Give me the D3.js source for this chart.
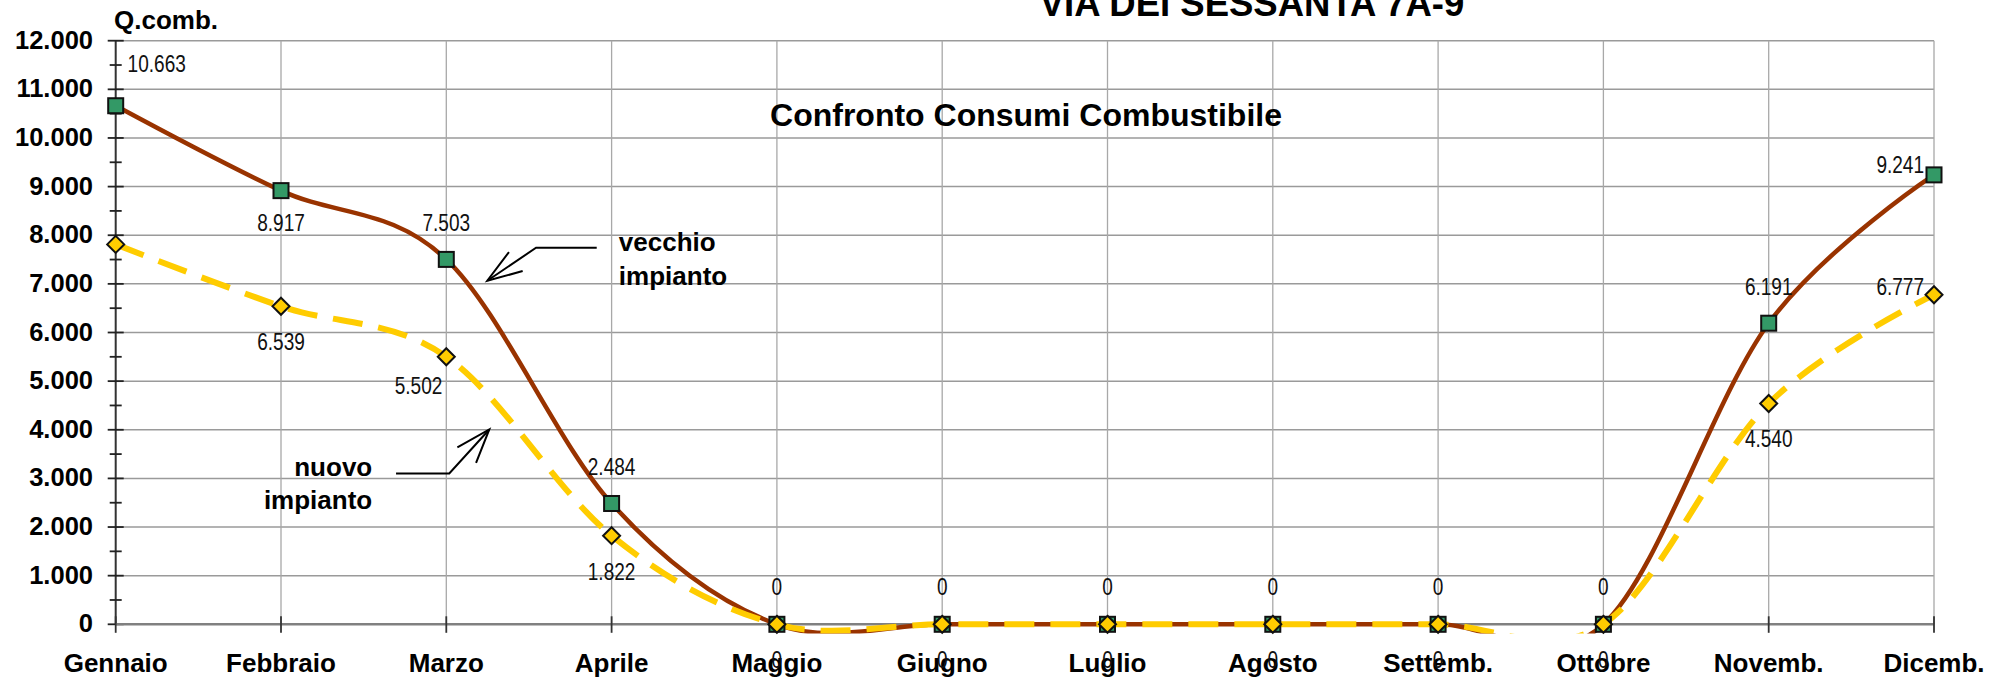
<!DOCTYPE html>
<html>
<head>
<meta charset="utf-8">
<script src="https://cdn.jsdelivr.net/npm/d3@7/dist/d3.min.js"></script>
<style>
  body { margin: 0; background: #fff; overflow: hidden; }
  svg { display: block; font-family: Arial, "Liberation Sans", sans-serif; }
</style>
</head>
<body>
<div id="container"></div>
<script>
// Months on the x axis
let months = ["Gennaio", "Febbraio", "Marzo", "Aprile", "Maggio", "Giugno",
              "Luglio", "Agosto", "Settemb.", "Ottobre", "Novemb.", "Dicemb."];

// Fuel consumption (Q.comb.) per month
let vecchio = [10663, 8917, 7503, 2484, 0, 0, 0, 0, 0, 0, 6191, 9241];
let nuovo   = [7812, 6539, 5502, 1822, 0, 0, 0, 0, 0, 0, 4540, 6777];

// y axis ticks
let yTicks = [0, 1000, 2000, 3000, 4000, 5000, 6000, 7000, 8000, 9000, 10000, 11000, 12000];

// where each data label sits, relative to its marker: [dx, dy, anchor] (null = no label)
let vecchioLabelPos = [[41, -34, "middle"], [0, 40, "middle"], [0, -28, "middle"], [0, -28, "middle"],
                       [0, -29, "middle"], [0, -29, "middle"], [0, -29, "middle"], [0, -29, "middle"],
                       [0, -29, "middle"], [0, -29, "middle"], [0, -28, "middle"], [-10, -2, "end"]];
let nuovoLabelPos = [null, [0, 44, "middle"], [-4, 37, "end"], [0, 44, "middle"],
                     [0, 44, "middle"], [0, 44, "middle"], [0, 44, "middle"], [0, 44, "middle"],
                     [0, 44, "middle"], [0, 44, "middle"], [0, 43, "middle"], [-10, 0, "end"]];

//Width and height
let w = 2007;
let h = 677;

let plotLeft = 115.7, plotRight = 1934, plotTop = 40.7, plotBottom = 624.3;

let x = d3.scalePoint().domain(months).range([plotLeft, plotRight]);
// month index scale, used for the annotation arrows
let xi = d3.scaleLinear().domain([0, 11]).range([plotLeft, plotRight]);
let y = d3.scaleLinear().domain([0, 12000]).range([plotBottom, plotTop]);

let fmt = d3.formatLocale({ decimal: ",", thousands: ".", grouping: [3], currency: ["", ""] }).format(",d");

let svg = d3.select("#container")
  .append("svg")
  .attr("width", w)
  .attr("height", h);

// clip for the smoothed lines (they overshoot below zero)
svg.append("clipPath").attr("id", "plotClip")
  .append("rect")
  .attr("x", plotLeft - 20).attr("y", 0)
  .attr("width", plotRight - plotLeft + 40).attr("height", 633.5);

// Horizontal gridlines
svg.append("g")
  .selectAll("line")
  .data(yTicks.filter(d => d > 0))
  .enter()
  .append("line")
    .attr("x1", plotLeft).attr("x2", plotRight)
    .attr("y1", d => y(d)).attr("y2", d => y(d))
    .style("stroke", "#9a9a9a")
    .style("stroke-width", 1.5);

// Vertical gridlines
svg.append("g")
  .selectAll("line")
  .data(months.slice(1))
  .enter()
  .append("line")
    .attr("x1", d => x(d)).attr("x2", d => x(d))
    .attr("y1", plotTop).attr("y2", plotBottom)
    .style("stroke", "#a8a8a8")
    .style("stroke-width", 1.3);

// y axis: major ticks each 1000, minor at 500
let yAxis = svg.append("g");
yAxis.append("line")
  .attr("x1", plotLeft).attr("x2", plotLeft)
  .attr("y1", plotTop).attr("y2", plotBottom)
  .style("stroke", "#333").style("stroke-width", 2);
yAxis.selectAll(".major")
  .data(yTicks)
  .enter()
  .append("line")
    .attr("x1", plotLeft - 8).attr("x2", plotLeft + 8)
    .attr("y1", d => y(d)).attr("y2", d => y(d))
    .style("stroke", "#222").style("stroke-width", 1.8);
yAxis.selectAll(".minor")
  .data(yTicks.slice(1).map(d => d - 500))
  .enter()
  .append("line")
    .attr("x1", plotLeft - 6).attr("x2", plotLeft + 6)
    .attr("y1", d => y(d)).attr("y2", d => y(d))
    .style("stroke", "#222").style("stroke-width", 1.8);
yAxis.selectAll("text")
  .data(yTicks)
  .enter()
  .append("text")
    .attr("x", 93)
    .attr("y", d => y(d) + 8)
    .attr("text-anchor", "end")
    .style("font-size", "25.5px")
    .style("font-weight", "bold")
    .text(d => fmt(d));

// x axis
let xAxis = svg.append("g");
xAxis.append("line")
  .attr("x1", plotLeft).attr("x2", plotRight)
  .attr("y1", plotBottom).attr("y2", plotBottom)
  .style("stroke", "#808080").style("stroke-width", 2.5);
xAxis.selectAll(".tick")
  .data(months)
  .enter()
  .append("line")
    .attr("x1", d => x(d)).attr("x2", d => x(d))
    .attr("y1", plotBottom - 8).attr("y2", plotBottom + 8.5)
    .style("stroke", "#333").style("stroke-width", 1.8);
xAxis.selectAll("text")
  .data(months)
  .enter()
  .append("text")
    .attr("x", d => x(d))
    .attr("y", 672)
    .attr("text-anchor", "middle")
    .style("font-size", "26px")
    .style("font-weight", "bold")
    .text(d => d);

// Axis unit + titles
svg.append("text")
  .attr("x", 114).attr("y", 28.5)
  .style("font-size", "26px").style("font-weight", "bold")
  .text("Q.comb.");

svg.append("text")
  .attr("x", 1252).attr("y", 16)
  .attr("text-anchor", "middle")
  .style("font-size", "36.5px").style("font-weight", "bold")
  .text("VIA DEI SESSANTA 7A-9");

svg.append("text")
  .attr("x", 1026).attr("y", 126)
  .attr("text-anchor", "middle")
  .style("font-size", "32px").style("font-weight", "bold")
  .text("Confronto Consumi Combustibile");

// Smoothed lines (Excel style smoothing ~ Catmull-Rom)
let line = d3.line()
  .x((d, i) => x(months[i]))
  .y(d => y(d))
  .curve(d3.curveCardinal.tension(0));

let lines = svg.append("g").attr("clip-path", "url(#plotClip)");
lines.append("path")
  .attr("d", line(vecchio))
  .style("fill", "none")
  .style("stroke", "#993300")
  .style("stroke-width", 4.5);
lines.append("path")
  .attr("d", line(nuovo))
  .style("fill", "none")
  .style("stroke", "#FFCC00")
  .style("stroke-width", 6)
  .style("stroke-dasharray", "30,16");

// Markers
svg.append("g")
  .selectAll("rect")
  .data(vecchio)
  .enter()
  .append("rect")
    .attr("x", (d, i) => x(months[i]) - 7.5)
    .attr("y", d => y(d) - 7.5)
    .attr("width", 15).attr("height", 15)
    .style("fill", "#339966")
    .style("stroke", "#111")
    .style("stroke-width", 2);

svg.append("g")
  .selectAll("path")
  .data(nuovo)
  .enter()
  .append("path")
    .attr("d", (d, i) => {
      let cx = x(months[i]), cy = y(d), r = 8.5;
      return "M" + cx + "," + (cy - r) + "L" + (cx + r) + "," + cy + "L" + cx + "," + (cy + r) + "L" + (cx - r) + "," + cy + "Z";
    })
    .style("fill", "#FFCC00")
    .style("stroke", "#111")
    .style("stroke-width", 2);

// Data labels (narrow font look)
function addLabels(values, pos) {
  svg.append("g")
    .selectAll("text")
    .data(values.map((v, i) => ({ v: v, i: i, p: pos[i] })).filter(d => d.p))
    .enter()
    .append("text")
      .attr("transform", d => "translate(" + (x(months[d.i]) + d.p[0]) + "," + (y(d.v) + d.p[1]) + ") scale(0.81,1)")
      .attr("text-anchor", d => d.p[2])
      .style("font-size", "23.5px")
      .style("fill", "#111")
      .text(d => fmt(d.v));
}
addLabels(vecchio, vecchioLabelPos);
addLabels(nuovo, nuovoLabelPos);

// Annotation arrows (placed in month index / value coordinates)
function arrow(pts, head1, head2) {
  let g = svg.append("g")
    .style("stroke", "#000").style("stroke-width", 2).style("fill", "none");
  g.append("path")
    .attr("d", d3.line().x(d => xi(d[0])).y(d => y(d[1]))(pts));
  let tip = pts[pts.length - 1];
  g.append("path")
    .attr("d", d3.line().x(d => xi(d[0])).y(d => y(d[1]))([head1, tip, head2]));
}
arrow([[2.910, 7743], [2.543, 7743], [2.248, 7064]], [2.379, 7654], [2.462, 7263]);
arrow([[1.696, 3101], [2.018, 3101], [2.260, 4006]], [2.067, 3636], [2.180, 3319]);

let ann = svg.append("g").style("font-size", "26px").style("font-weight", "bold");
ann.append("text").attr("x", xi(3.044)).attr("y", y(7681)).text("vecchio");
ann.append("text").attr("x", xi(3.044)).attr("y", y(6975)).text("impianto");
ann.append("text").attr("x", xi(1.552)).attr("y", y(3045)).attr("text-anchor", "end").text("nuovo");
ann.append("text").attr("x", xi(1.552)).attr("y", y(2366)).attr("text-anchor", "end").text("impianto");
</script>
</body>
</html>
